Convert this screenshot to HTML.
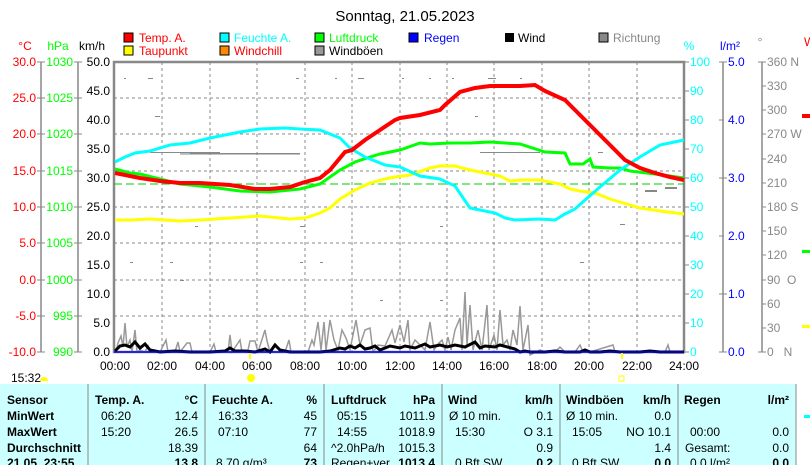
<!DOCTYPE html>
<html><head><meta charset="utf-8"><style>
body{margin:0;background:#fff;width:810px;height:465px;overflow:hidden;font-family:"Liberation Sans",sans-serif}
svg{position:absolute;left:0;top:0}
</style></head><body>
<svg width="810" height="465" viewBox="0 0 810 465" font-family="Liberation Sans, sans-serif" font-size="12">
<text x="405" y="21" text-anchor="middle" font-size="15">Sonntag, 21.05.2023</text>
<!-- legend -->
<g font-size="12">
<rect x="124" y="33" width="9" height="9" fill="#f00" stroke="#000"/><text x="139" y="42" fill="#f00">Temp. A.</text>
<rect x="124" y="46" width="9" height="9" fill="#ff0" stroke="#000"/><text x="139" y="55" fill="#f00">Taupunkt</text>
<rect x="220" y="33" width="9" height="9" fill="#0ff" stroke="#000"/><text x="234" y="42" fill="#0ff">Feuchte A.</text>
<rect x="220" y="46" width="9" height="9" fill="#f80" stroke="#000"/><text x="234" y="55" fill="#f00">Windchill</text>
<rect x="315" y="33" width="9" height="9" fill="#0f0" stroke="#000"/><text x="329" y="42" fill="#0f0">Luftdruck</text>
<rect x="315" y="46" width="9" height="9" fill="#999" stroke="#000"/><text x="329" y="55">Windböen</text>
<rect x="409" y="33" width="9" height="9" fill="#00f" stroke="#000"/><text x="424" y="42" fill="#00f">Regen</text>
<rect x="505" y="33" width="9" height="9" fill="#000"/><text x="518" y="42">Wind</text>
<rect x="599" y="33" width="9" height="9" fill="#888" stroke="#000"/><text x="613" y="42" fill="#888">Richtung</text>
</g>
<text x="25" y="50" fill="#f00" text-anchor="middle">°C</text>
<text x="58" y="50" fill="#0f0" text-anchor="middle">hPa</text>
<text x="92" y="50" text-anchor="middle">km/h</text>
<text x="689" y="50" fill="#0ff" text-anchor="middle">%</text>
<text x="730" y="50" fill="#00f" text-anchor="middle">l/m²</text>
<text x="760" y="46" fill="#888" text-anchor="middle">°</text>
<text x="804" y="46" fill="#f00">W</text>
<!-- axis lines -->
<g stroke="#888" stroke-width="1.5" fill="none">
<line x1="41" y1="62" x2="41" y2="352"/><line x1="78" y1="62" x2="78" y2="352"/>
<line x1="723" y1="62" x2="723" y2="352"/><line x1="762" y1="62" x2="762" y2="352"/>
</g>
<g id="ticks" stroke="#888">
<path d="M37 62h8M37 98h8M37 134h8M37 171h8M37 207h8M37 243h8M37 280h8M37 316h8M37 352h8 M74 62h8M74 98h8M74 134h8M74 171h8M74 207h8M74 243h8M74 280h8M74 316h8M74 352h8 M684 62h5M684 91h5M684 120h5M684 149h5M684 178h5M684 207h5M684 236h5M684 265h5M684 294h5M684 323h5M684 352h5 M719 62h8M719 120h5M719 178h8M719 236h5M719 294h8M719 352h8 M758 62h8M762 86h4M762 110h4M762 134h4M762 159h4M762 183h4M762 207h4M762 231h4M762 255h4M762 280h4M762 304h4M762 328h4M758 352h8"/>
</g>
<g fill="#f00" text-anchor="end">
<text x="36" y="66">30.0</text><text x="36" y="102">25.0</text><text x="36" y="138">20.0</text><text x="36" y="175">15.0</text><text x="36" y="211">10.0</text><text x="36" y="247">5.0</text><text x="36" y="284">0.0</text><text x="36" y="320">-5.0</text><text x="36" y="356">-10.0</text></g>
<g fill="#0f0" text-anchor="end">
<text x="73" y="66">1030</text><text x="73" y="102">1025</text><text x="73" y="138">1020</text><text x="73" y="175">1015</text><text x="73" y="211">1010</text><text x="73" y="247">1005</text><text x="73" y="284">1000</text><text x="73" y="320">995</text><text x="73" y="356">990</text></g>
<g fill="#000" text-anchor="end">
<text x="110" y="66">50.0</text><text x="110" y="95">45.0</text><text x="110" y="124">40.0</text><text x="110" y="153">35.0</text><text x="110" y="182">30.0</text><text x="110" y="211">25.0</text><text x="110" y="240">20.0</text><text x="110" y="269">15.0</text><text x="110" y="298">10.0</text><text x="110" y="327">5.0</text><text x="110" y="356">0.0</text></g>
<g fill="#0ff">
<text x="690" y="66">100</text><text x="690" y="95">90</text><text x="690" y="124">80</text><text x="690" y="153">70</text><text x="690" y="182">60</text><text x="690" y="211">50</text><text x="690" y="240">40</text><text x="690" y="269">30</text><text x="690" y="298">20</text><text x="690" y="327">10</text><text x="690" y="356">0</text></g>
<g fill="#00f">
<text x="728" y="66">5.0</text><text x="728" y="124">4.0</text><text x="728" y="182">3.0</text><text x="728" y="240">2.0</text><text x="728" y="298">1.0</text><text x="728" y="356">0.0</text></g>
<g fill="#888">
<text x="767" y="66">360 N</text><text x="767" y="90">330</text><text x="767" y="114">300</text><text x="767" y="138">270 W</text><text x="767" y="163">240</text><text x="767" y="187">210</text><text x="767" y="211">180 S</text><text x="767" y="235">150</text><text x="767" y="259">120</text><text x="767" y="284">90&#160;&#160;O</text><text x="767" y="308">60</text><text x="767" y="332">30</text><text x="767" y="356">0&#160;&#160;&#160;N</text></g>
<rect x="802" y="114" width="8" height="4" fill="#f00"/><rect x="802" y="250" width="8" height="3" fill="#0f0"/><rect x="802" y="325" width="8" height="3" fill="#ff0"/>
<!-- grid -->
<g stroke="#888" stroke-dasharray="3,3">
<path d="M162 62v290M210 62v290M257 62v290M305 62v290M352 62v290M400 62v290M447 62v290M494 62v290M542 62v290M589 62v290M637 62v290"/>
<path d="M114 98h570M114 134h570M114 171h570M114 207h570M114 243h570M114 280h570M114 316h570"/>
</g>
<rect x="114" y="62" width="570" height="290" fill="none" stroke="#888" stroke-width="2.5"/>
<!-- scatter direction -->
<g fill="#888">
<rect x="124" y="78" width="2" height="1"/><rect x="148" y="78" width="5" height="1"/><rect x="296" y="78" width="3" height="1"/><rect x="335" y="78" width="2" height="1"/><rect x="358" y="78" width="6" height="1"/><rect x="402" y="78" width="2" height="1"/><rect x="429" y="78" width="2" height="1"/><rect x="452" y="78" width="2" height="1"/><rect x="488" y="78" width="8" height="1"/><rect x="520" y="78" width="2" height="1"/><rect x="598" y="152" width="5" height="1"/><rect x="645" y="190" width="12" height="2"/><rect x="665" y="187" width="12" height="2"/>
<rect x="150" y="152" width="70" height="1"/><rect x="190" y="153" width="110" height="1"/><rect x="180" y="153" width="120" height="1" opacity=".6"/><rect x="180" y="154" width="120" height="1" opacity=".5"/><rect x="480" y="152" width="60" height="1"/><rect x="155" y="116" width="5" height="1"/><rect x="475" y="116" width="3" height="1"/><rect x="300" y="226" width="5" height="1"/><rect x="195" y="226" width="3" height="1"/><rect x="440" y="226" width="3" height="1"/><rect x="130" y="262" width="3" height="1"/><rect x="170" y="262" width="3" height="1"/><rect x="300" y="262" width="3" height="1"/><rect x="320" y="262" width="3" height="1"/><rect x="180" y="280" width="4" height="1"/><rect x="580" y="262" width="4" height="1"/><rect x="380" y="300" width="3" height="1"/><rect x="440" y="300" width="3" height="1"/><rect x="620" y="224" width="5" height="1"/></g>
<line x1="114" y1="184" x2="684" y2="184" stroke="#0c0" stroke-dasharray="8,4"/>
<!-- gusts -->
<polyline fill="none" stroke="#999" stroke-width="1.5" points="116,352 118,343 121,336 123,347 125,323 127,347 130,340 132,352 135,330 137,352 140,350 145,352 148,346 150,352 160,352 166,340 168,352 175,352 178,342 180,352 187,343 190,343 192,352 210,352 214,344 216,352 228,352 230,335 232,352 240,340 242,352 248,350 250,341 255,341 258,352 265,330 267,341 270,352 285,352 289,340 291,352 300,352 308,352 312,340 314,345 318,322 321,350 324,322 326,350 330,320 334,340 338,350 342,330 346,338 350,350 356,320 360,345 365,330 370,328 373,352 378,345 385,346 392,330 395,343 400,325 404,342 408,320 410,350 415,340 420,345 425,350 430,322 434,350 438,344 442,340 445,350 448,337 451,350 455,330 460,318 462,350 465,292 467,345 470,305 473,350 478,330 482,350 487,305 489,350 494,335 497,350 500,310 503,345 507,340 510,350 513,330 517,345 520,306 523,350 528,325 530,355 540,350 545,352 555,352 560,347 565,352 575,352 580,345 583,352 590,352 613,345 615,352 665,352 668,345 670,352 684,352"/>
<!-- wind -->
<polyline fill="none" stroke="#000" stroke-width="3" points="115,351 120,346 125,345 130,347 135,342 140,348 145,344 150,350 160,352 175,351 190,352 210,352 225,351 230,348 235,351 245,351 255,352 265,349 270,352 275,345 280,350 285,351 290,352 300,352 320,352 330,351 340,348 345,349 350,346 355,348 360,345 365,349 370,348 375,346 380,350 390,346 400,348 405,346 415,348 425,344 430,347 440,345 447,347 455,345 465,347 475,342 480,348 485,346 495,347 500,345 515,349 520,352 525,351 530,352 545,352 555,351 565,352 580,352 585,350 590,352 600,352 610,351 620,352 640,352 650,351 660,352 684,352"/>
<line x1="114" y1="352" x2="684" y2="352" stroke="#00f" stroke-width="1.5"/>
<!-- series -->
<polyline fill="none" stroke="#ff0" stroke-width="3" points="115,220 130,220 150,219 180,221 200,220 230,218 260,216 290,219 305,218 320,213 330,208 340,199 355,190 370,183 385,179 395,177 410,175 430,168 440,166 455,166 470,170 490,174 500,176 510,181 520,180 540,180 560,184 570,189 580,191 595,193 610,199 630,205 640,208 660,211 684,214"/>
<polyline fill="none" stroke="#0f0" stroke-width="3" points="115,169 130,173 140,174 160,179 180,184 210,187 240,191 270,192 300,189 320,184 340,170 355,162 370,157 380,154 400,150 420,143 430,144 450,143 470,143 490,142 520,144 545,152 565,153 570,164 583,164 590,159 593,167 610,168 620,168 630,171 655,174 670,176 684,178"/>
<polyline fill="none" stroke="#0ff" stroke-width="3" points="115,162 125,157 135,153 150,151 170,145 190,143 210,138 240,132 260,129 285,128 300,129 320,130 340,138 350,148 365,157 385,165 400,167 420,176 440,179 455,186 470,208 480,210 495,213 505,218 515,220 540,219 555,220 565,214 575,209 585,200 600,187 620,170 640,157 660,145 684,140"/>
<polyline fill="none" stroke="#f00" stroke-width="4" points="115,173 140,178 160,181 180,183 200,183 230,185 255,189 270,189 290,187 305,182 320,178 330,170 345,152 352,150 365,140 380,130 395,120 400,118 420,115 440,110 445,105 460,92 475,88 490,86 520,86 535,85 545,91 565,100 580,115 600,135 615,150 625,160 640,168 655,173 670,177 684,180"/>
<!-- x labels -->
<g text-anchor="middle">
<text x="115" y="370">00:00</text><text x="162" y="370">02:00</text><text x="210" y="370">04:00</text><text x="257" y="370">06:00</text><text x="305" y="370">08:00</text><text x="352" y="370">10:00</text><text x="400" y="370">12:00</text><text x="447" y="370">14:00</text><text x="494" y="370">16:00</text><text x="542" y="370">18:00</text><text x="589" y="370">20:00</text><text x="637" y="370">22:00</text><text x="684" y="370">24:00</text></g>
<rect x="249" y="353" width="2" height="6" fill="#ff0"/><rect x="621" y="353" width="2" height="6" fill="#ff0"/>
<text x="11" y="382">15:32</text><path d="M40 381a4 4 0 0 1 8 0z" fill="#ff0"/>
<circle cx="251" cy="378" r="4" fill="#ff0"/><rect x="619" y="376" width="5" height="5" fill="none" stroke="#ff0"/>
<!-- table -->
<rect x="0" y="384" width="796" height="81" fill="#ccffff"/>
<rect x="796" y="384" width="14" height="81" fill="#fff"/>
<rect x="804" y="415" width="6" height="3" fill="#0ff"/>
<g stroke="#888"><path d="M88 384v81M205 384v81M324 384v81M442 384v81M560 384v81M678 384v81M796 384v81"/></g>
<g font-weight="bold" font-size="12">
<text x="7" y="404">Sensor</text><text x="95" y="404">Temp. A.</text><text x="198" y="404" text-anchor="end">°C</text><text x="212" y="404">Feuchte A.</text><text x="317" y="404" text-anchor="end">%</text><text x="331" y="404">Luftdruck</text><text x="435" y="404" text-anchor="end">hPa</text><text x="448" y="404">Wind</text><text x="553" y="404" text-anchor="end">km/h</text><text x="566" y="404">Windböen</text><text x="671" y="404" text-anchor="end">km/h</text><text x="684" y="404">Regen</text><text x="789" y="404" text-anchor="end">l/m²</text>
<text x="7" y="420">MinWert</text><text x="7" y="436">MaxWert</text><text x="7" y="452">Durchschnitt</text><text x="7" y="467">21.05. 23:55</text>
<text x="198" y="467" text-anchor="end">13.8</text><text x="317" y="467" text-anchor="end">73</text><text x="435" y="467" text-anchor="end">1013.4</text><text x="553" y="467" text-anchor="end">0.2</text><text x="671" y="467" text-anchor="end">0.0</text><text x="789" y="467" text-anchor="end">0.0</text>
</g>
<g font-size="12">
<text x="101" y="420">06:20</text><text x="198" y="420" text-anchor="end">12.4</text><text x="218" y="420">16:33</text><text x="317" y="420" text-anchor="end">45</text><text x="337" y="420">05:15</text><text x="435" y="420" text-anchor="end">1011.9</text><text x="449" y="420">Ø 10 min.</text><text x="553" y="420" text-anchor="end">0.1</text><text x="566" y="420">Ø 10 min.</text><text x="671" y="420" text-anchor="end">0.0</text>
<text x="101" y="436">15:20</text><text x="198" y="436" text-anchor="end">26.5</text><text x="218" y="436">07:10</text><text x="317" y="436" text-anchor="end">77</text><text x="337" y="436">14:55</text><text x="435" y="436" text-anchor="end">1018.9</text><text x="455" y="436">15:30</text><text x="553" y="436" text-anchor="end">O 3.1</text><text x="572" y="436">15:05</text><text x="671" y="436" text-anchor="end">NO 10.1</text><text x="690" y="436">00:00</text><text x="789" y="436" text-anchor="end">0.0</text>
<text x="198" y="452" text-anchor="end">18.39</text><text x="317" y="452" text-anchor="end">64</text><text x="331" y="452">^2.0hPa/h</text><text x="435" y="452" text-anchor="end">1015.3</text><text x="553" y="452" text-anchor="end">0.9</text><text x="671" y="452" text-anchor="end">1.4</text><text x="685" y="452">Gesamt:</text><text x="789" y="452" text-anchor="end">0.0</text>
<text x="216" y="467">8.70 g/m³</text><text x="331" y="467">Regen+ver</text><text x="455" y="467">0 Bft SW</text><text x="572" y="467">0 Bft SW</text><text x="690" y="467">0.0 l/m²</text>
</g>
</svg>
</body></html>
